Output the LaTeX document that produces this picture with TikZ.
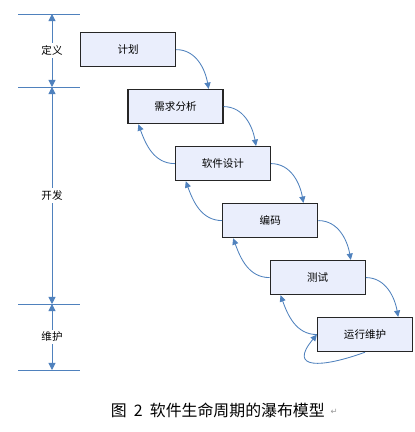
\documentclass[tikz,border=0pt]{standalone}
\usepackage{fontspec}
\newfontfamily\cjk{Noto Sans CJK SC}
\newfontfamily\symb{DejaVu Sans}
\usepackage{xcolor}
\usepackage{tikz}
\usetikzlibrary{arrows.meta, positioning}
\definecolor{boxfill}{RGB}{234,238,252}
\definecolor{linkblue}{RGB}{79,129,189}

\begin{document}
\begin{tikzpicture}[
  node distance=0.543cm and -1.222cm,
  box/.style={rectangle, draw=black!85, fill=boxfill, line width=0.9pt, minimum width=2.375cm, minimum height=0.85cm, text centered, font=\cjk\fontsize{7.5}{9}\selectfont},
  arrow/.style={draw=linkblue, line width=0.6pt, -{Triangle[length=1.6mm, width=1.5mm]}},
  dim_arrow/.style={draw=linkblue, line width=0.6pt, {Triangle[length=1.8mm, width=1.8mm]}-{Triangle[length=1.8mm, width=1.8mm]}},
  tick/.style={draw=linkblue, line width=0.5pt},
  phase/.style={fill=white, inner sep=1.5pt, font=\cjk\fontsize{7.5}{9}\selectfont}
]
\useasboundingbox (0,0) rectangle (10.375,-10.8);

% Phase scale
\coordinate (l0) at (0.45,-0.35);   \coordinate (r0) at (2.0,-0.35);   \coordinate (m0) at (1.3,-0.35);
\coordinate (l1) at (0.45,-2.175);  \coordinate (r1) at (2.0,-2.175);  \coordinate (m1) at (1.3,-2.175);
\coordinate (l2) at (0.45,-7.6);    \coordinate (r2) at (2.0,-7.6);    \coordinate (m2) at (1.3,-7.6);
\coordinate (l3) at (0.45,-9.25);   \coordinate (r3) at (2.0,-9.25);   \coordinate (m3) at (1.3,-9.25);
\draw [tick] (l0) -- (r0);
\draw [tick] (l1) -- (r1);
\draw [tick] (l2) -- (r2);
\draw [tick] (l3) -- (r3);
\draw [dim_arrow] (m0) -- (m1) node[midway, phase] {定义};
\draw [dim_arrow] (m1) -- (m2) node[midway, phase] {开发};
\draw [dim_arrow] (m2) -- (m3) node[midway, phase] {维护};

% Waterfall steps
\node (plan) [box, anchor=north west] at (2.0,-0.8) {计划};
\node (req) [box, below right=of plan] {需求分析};
\node (design) [box, below right=of req] {软件设计};
\node (code) [box, below right=of design] {编码};
\node (test) [box, below right=of code] {测试};
\node (run) [box, below right=of test] {运行维护};

% Forward flow
\draw [arrow] (plan.east) to[out=0, in=100] ([xshift=-0.375cm]req.north east);
\draw [arrow] (req.east) to[out=0, in=100] ([xshift=-0.375cm]design.north east);
\draw [arrow] (design.east) to[out=0, in=100] ([xshift=-0.375cm]code.north east);
\draw [arrow] (code.east) to[out=0, in=100] ([xshift=-0.375cm]test.north east);
\draw [arrow] (test.east) to[out=0, in=100] ([xshift=-0.375cm]run.north east);

% Feedback
\draw [arrow] (design.west) to[out=180, in=-70] ([xshift=0.275cm]req.south west);
\draw [arrow] (code.west) to[out=180, in=-70] ([xshift=0.275cm]design.south west);
\draw [arrow] (test.west) to[out=180, in=-70] ([xshift=0.275cm]code.south west);
\draw [arrow] (run.west) to[out=180, in=-70] ([xshift=0.275cm]test.south west);
\draw [arrow] (run.south) to[out=200, in=230, looseness=2.3] (run.west);

% Caption
\node (caption) [anchor=west, font=\cjk\fontsize{11.3}{13}\selectfont] at (2.65,-10.25) {图\hspace{0.45em}2\hspace{0.45em}软件生命周期的瀑布模型};
\node (mark) [right=-0.1cm of caption, font=\symb\fontsize{6}{7}\selectfont, text=black!40, yshift=-0.05cm] {↵};
\end{tikzpicture}
\end{document}
